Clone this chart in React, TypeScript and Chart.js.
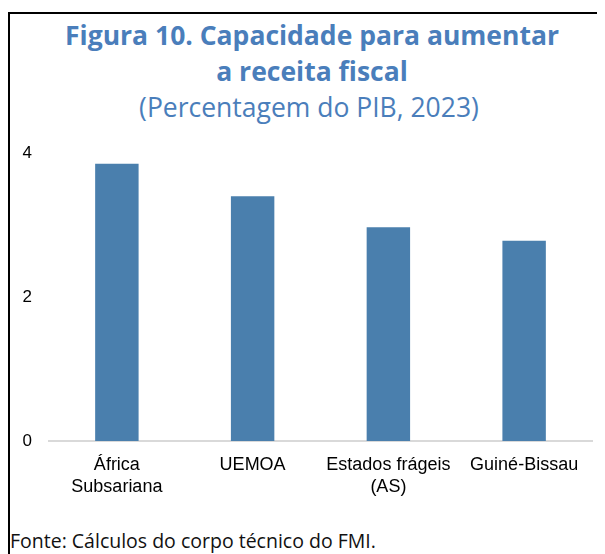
import React, { useEffect, useRef } from "react";
import { Chart, registerables } from "chart.js";

Chart.register(...registerables);

const categories: string[][] = [["África", "Subsariana"], ["UEMOA"], ["Estados frágeis", "(AS)"], ["Guiné-Bissau"]];
const values: number[] = [3.85, 3.4, 2.97, 2.78];
const yTickValues: number[] = [0, 2, 4];
const titleLines: string[] = ["Figura 10. Capacidade para aumentar", "a receita fiscal"];
const subtitleText = "(Percentagem do PIB, 2023)";
const sourceText = "Fonte: Cálculos do corpo técnico do FMI.";

const BAR_COLOR = "#4A7FAD";
const TITLE_COLOR = "#4A7EBB";

export default function App() {
  const canvasRef = useRef<HTMLCanvasElement | null>(null);

  useEffect(() => {
    const canvas = canvasRef.current;
    if (!canvas) return;
    const chart = new Chart(canvas, {
      type: "bar",
      data: {
        labels: categories,
        datasets: [
          {
            data: values,
            backgroundColor: BAR_COLOR,
            borderWidth: 0,
            barPercentage: 0.32,
            categoryPercentage: 1,
          },
        ],
      },
      options: {
        responsive: false,
        animation: false,
        devicePixelRatio: 1,
        layout: { padding: { left: 0, right: 13, top: 0, bottom: 15 } },
        plugins: {
          legend: { display: false },
          tooltip: { enabled: false },
          title: { display: false },
        },
        scales: {
          x: {
            grid: { display: false, drawTicks: false },
            border: { display: true, color: "#D9D9D9", width: 2 },
            ticks: {
              color: "#000000",
              padding: 13,
              font: { family: "'Liberation Sans', Arial, sans-serif", size: 18, lineHeight: 1.22 },
              maxRotation: 0,
              autoSkip: false,
            },
            afterFit: (scale: any) => {
              scale.height = 60;
            },
          },
          y: {
            min: 0,
            max: 4,
            grid: { display: false, drawTicks: false },
            border: { display: false },
            afterBuildTicks: (scale: any) => {
              scale.ticks = yTickValues.map((v) => ({ value: v }));
            },
            ticks: {
              color: "#000000",
              padding: 17,
              font: { family: "'Liberation Sans', Arial, sans-serif", size: 17, lineHeight: "20px" },
            },
            afterFit: (scale: any) => {
              scale.width = 39;
            },
          },
        },
      },
    });
    return () => chart.destroy();
  }, []);

  return (
    <div
      style={{
        position: "relative",
        marginTop: 4,
        width: 595,
        height: 560,
        borderTop: "2px solid #000",
        borderLeft: "2px solid #000",
        boxSizing: "content-box",
      }}
    >
      <div
        style={{
          position: "absolute",
          top: 0,
          left: 0,
          width: 595,
          boxSizing: "border-box",
          paddingTop: 3,
          paddingLeft: 9,
          textAlign: "center",
          fontFamily: "'Open Sans', sans-serif",
          fontWeight: 700,
          fontSize: 26.5,
          lineHeight: "36px",
          color: TITLE_COLOR,
          whiteSpace: "nowrap",
        }}
      >
        {titleLines.map((t, i) => (
          <div key={i}>{t}</div>
        ))}
        <div style={{ fontWeight: 400, fontSize: 26.5, marginLeft: -6 }}>{subtitleText}</div>
      </div>
      <canvas
        ref={canvasRef}
        width={595}
        height={390}
        style={{ position: "absolute", left: 0, top: 112, width: 595, height: 390 }}
      />
      <div
        style={{
          position: "absolute",
          left: 0,
          top: 512,
          fontFamily: "'Open Sans', sans-serif",
          fontSize: 19.5,
          lineHeight: "30px",
          color: "#111",
          whiteSpace: "nowrap",
        }}
      >
        {sourceText}
      </div>
    </div>
  );
}
